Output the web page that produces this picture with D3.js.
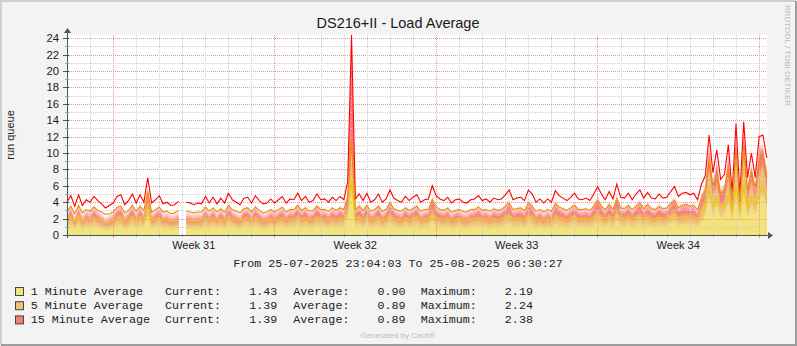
<!DOCTYPE html>
<html>
<head>
<meta charset="utf-8">
<title>DS216+II - Load Average</title>
<style>
  body { margin: 0; background: #fff; }
  svg { display: block; }
  text { font-family: "Liberation Sans", Arial, sans-serif; fill: #1a1a1a; }
  .mono { font-family: "Liberation Mono", "Courier New", monospace; white-space: pre; fill: #222; }
</style>
</head>
<body>
<div id="chart"></div>
<script src="https://d3js.org/d3.v7.min.js"></script>
<script>
// one sample every 4 hours from the left edge of the graph, null = no data
var sampleStart = Date.UTC(2025, 6, 26, 0, 9),
    sampleHours = 4;

var load15 = [
  4.0, 4.8, 3.5, 4.9, 3.6, 4.3, 4.0, 4.7, 4.2, 3.8,
  3.3, 3.6, 3.9, 4.7, 4.9, 3.7, 4.2, 5.0, 3.9, 4.9,
  4.0, 7.0, 3.9, 4.3, 4.8, 3.8, 4.0, 3.6, 3.7, 4.1,
  null, 4.0, 3.9, 3.7, 3.9, 3.8, 4.7, 3.9, 4.6, 3.8,
  4.5, 3.9, 5.1, 4.3, 4.0, 3.7, 4.5, 4.6, 3.9, 4.8,
  4.2, 3.8, 3.9, 4.4, 3.9, 4.3, 4.7, 3.9, 4.4, 4.3,
  5.1, 4.2, 4.7, 4.0, 4.2, 5.0, 4.3, 4.4, 4.0, 4.6,
  4.2, 4.7, 4.3, 6.5, 24.4, 4.4, 5.0, 4.2, 5.1, 4.0,
  4.3, 5.0, 4.0, 4.4, 5.5, 4.5, 4.2, 4.0, 4.7, 4.2,
  4.6, 4.9, 4.0, 4.3, 4.4, 6.0, 4.8, 4.4, 4.2, 4.6,
  3.9, 4.3, 4.4, 4.0, 3.9, 4.3, 4.4, 4.8, 4.2, 4.4,
  4.0, 4.5, 4.3, 4.4, 4.9, 5.5, 4.3, 4.5, 4.6, 4.2,
  5.5, 5.0, 4.0, 4.4, 3.9, 4.4, 4.0, 5.4, 4.8, 4.5,
  4.2, 4.6, 5.1, 4.4, 4.3, 4.5, 4.2, 5.0, 5.9, 5.0,
  4.3, 5.3, 4.4, 6.2, 4.6, 4.5, 5.1, 4.3, 5.0, 5.5,
  4.5, 5.2, 4.5, 4.4, 5.0, 4.5, 4.6, 5.3, 5.9, 4.7,
  5.1, 5.2, 4.9, 5.1, 4.3, 6.2, 7.2, 12.2, 7.6, 10.4,
  6.8, 7.4, 11.0, 5.2, 13.6, 4.9, 13.8, 7.0, 10.0, 7.0,
  12.0, 12.2, 9.4
];

var load5 = [
  2.9, 3.5, 2.6, 3.6, 2.7, 3.1, 2.9, 3.4, 3.0, 2.8,
  2.5, 2.6, 2.8, 3.4, 3.5, 2.7, 3.0, 3.6, 2.9, 3.5,
  3.0, 5.3, 2.8, 3.1, 3.4, 2.8, 2.9, 2.6, 2.7, 3.0,
  null, 2.9, 2.8, 2.7, 2.8, 2.8, 3.4, 2.9, 3.3, 2.8,
  3.2, 2.8, 3.6, 3.1, 2.9, 2.7, 3.2, 3.3, 2.8, 3.4,
  3.0, 2.7, 2.8, 3.1, 2.8, 3.1, 3.4, 2.8, 3.1, 3.1,
  3.6, 3.0, 3.3, 2.9, 3.0, 3.5, 3.1, 3.1, 2.9, 3.3,
  3.0, 3.3, 3.1, 4.6, 11.6, 3.1, 3.5, 3.0, 3.6, 2.9,
  3.1, 3.5, 2.9, 3.1, 3.9, 3.2, 3.0, 2.9, 3.3, 3.0,
  3.2, 3.5, 2.9, 3.1, 3.1, 4.3, 3.4, 3.1, 3.0, 3.3,
  2.8, 3.0, 3.1, 2.9, 2.8, 3.1, 3.1, 3.4, 3.0, 3.1,
  2.9, 3.2, 3.0, 3.1, 3.5, 3.9, 3.1, 3.2, 3.3, 3.0,
  3.9, 3.5, 2.9, 3.1, 2.8, 3.1, 2.9, 3.8, 3.4, 3.2,
  3.0, 3.3, 3.6, 3.1, 3.1, 3.2, 3.0, 3.5, 4.2, 3.5,
  3.1, 3.7, 3.1, 4.4, 3.3, 3.2, 3.6, 3.1, 3.5, 3.9,
  3.2, 3.7, 3.2, 3.1, 3.5, 3.2, 3.3, 3.8, 4.2, 3.3,
  3.6, 3.7, 3.5, 3.6, 3.1, 4.5, 5.5, 9.3, 6.0, 7.5,
  5.0, 5.5, 8.2, 4.2, 10.3, 4.0, 10.8, 5.5, 7.8, 5.8,
  8.8, 9.8, 7.0
];

var load1 = [
  1.9, 2.2, 1.7, 2.3, 1.7, 2.0, 1.9, 2.1, 1.9, 1.8,
  1.6, 1.7, 1.8, 2.1, 2.2, 1.7, 1.9, 2.3, 1.8, 2.2,
  1.9, 3.4, 1.8, 2.0, 2.1, 1.8, 1.9, 1.7, 1.7, 1.9,
  null, 1.9, 1.8, 1.7, 1.8, 1.8, 2.1, 1.8, 2.1, 1.8,
  2.0, 1.8, 2.3, 2.0, 1.9, 1.7, 2.0, 2.1, 1.8, 2.2,
  1.9, 1.7, 1.8, 2.0, 1.8, 2.0, 2.1, 1.8, 2.0, 2.0,
  2.3, 1.9, 2.1, 1.9, 1.9, 2.2, 2.0, 2.0, 1.8, 2.1,
  1.9, 2.1, 2.0, 3.0, 6.5, 2.0, 2.2, 1.9, 2.3, 1.8,
  2.0, 2.2, 1.8, 2.0, 2.4, 2.0, 1.9, 1.8, 2.1, 1.9,
  2.0, 2.2, 1.8, 2.0, 2.0, 2.6, 2.1, 2.0, 1.9, 2.1,
  1.8, 1.9, 2.0, 1.8, 1.8, 2.0, 2.0, 2.1, 1.9, 2.0,
  1.8, 2.0, 1.9, 2.0, 2.2, 2.4, 2.0, 2.0, 2.1, 1.9,
  2.4, 2.2, 1.8, 2.0, 1.8, 2.0, 1.8, 2.3, 2.1, 2.0,
  1.9, 2.1, 2.3, 2.0, 2.0, 2.0, 1.9, 2.2, 2.6, 2.2,
  2.0, 2.3, 2.0, 2.7, 2.1, 2.0, 2.3, 2.0, 2.2, 2.4,
  2.0, 2.3, 2.0, 2.0, 2.2, 2.0, 2.1, 2.4, 2.6, 2.1,
  2.2, 2.3, 2.2, 2.2, 2.0, 2.5, 3.5, 5.6, 3.5, 4.6,
  3.2, 3.5, 5.0, 2.8, 5.8, 2.7, 6.0, 3.3, 4.6, 3.6,
  5.2, 5.9, 4.4
];

var seriesNames = ["1 Minute Average", "5 Minute Average", "15 Minute Average"];
var current = [1.43, 1.39, 1.39];
var average = [0.90, 0.89, 0.89];
var maximum = [2.19, 2.24, 2.38];

var yTicks = [0, 2, 4, 6, 8, 10, 12, 14, 16, 18, 20, 22, 24];
var weekLabels = ["Week 31", "Week 32", "Week 33", "Week 34"];
var weekStarts = [Date.UTC(2025, 6, 28), Date.UTC(2025, 7, 4), Date.UTC(2025, 7, 11), Date.UTC(2025, 7, 18)];

var width = 797, height = 346,
    margin = {top: 35, left: 67, right: 30, bottom: 111},
    plotW = width - margin.left - margin.right,
    plotH = height - margin.top - margin.bottom;

var svg = d3.select("#chart").append("svg")
  .attr("width", width)
  .attr("height", height);

// canvas and frame
svg.append("rect").attr("width", width).attr("height", height).attr("fill", "#f3f3f3");
svg.append("path").attr("d", "M1,345V1H796").attr("fill", "none").attr("stroke", "#cfcfcf").attr("stroke-width", 2);
svg.append("path").attr("d", "M1,345H796V1").attr("fill", "none").attr("stroke", "#9c9c9c").attr("stroke-width", 2);

var x = d3.scaleUtc()
  .domain([new Date(sampleStart), new Date(Date.UTC(2025, 7, 25, 8, 23))])
  .range([margin.left, margin.left + plotW]);
var y = d3.scaleLinear()
  .domain([0, 24.4])
  .range([margin.top + plotH, margin.top]);

var times = load15.map(function(d, i) { return new Date(sampleStart + i * sampleHours * 3600e3); });

svg.append("rect")
  .attr("x", margin.left).attr("y", margin.top)
  .attr("width", plotW).attr("height", plotH)
  .attr("fill", "#fff");

svg.append("clipPath").attr("id", "clip")
  .append("rect")
  .attr("x", margin.left).attr("y", margin.top)
  .attr("width", plotW).attr("height", plotH);

var area = d3.area()
  .defined(function(d) { return d != null; })
  .x(function(d, i) { return x(times[i]); })
  .y0(y(0))
  .y1(function(d) { return y(d); });

var line = d3.line()
  .defined(function(d) { return d != null; })
  .x(function(d, i) { return x(times[i]); })
  .y(function(d) { return y(d); });

// rrdtool style gradient area: transparent at the line, full colour some px below it
function gradientArea(values, color, start, step, n) {
  var g = svg.append("g").attr("clip-path", "url(#clip)");
  for (var k = 1; k <= n; k++) {
    g.append("path")
      .datum(values)
      .attr("d", area)
      .attr("fill", color)
      .attr("fill-opacity", 1 / (n - k + 1))
      .attr("transform", "translate(0," + (start + k * step) + ")");
  }
}

var fills = ["#f4e27a", "#efc173", "#f97a7a"];
var strokes = ["#eacc00", "#ea8f00", "#ff0000"];

gradientArea(load15, fills[2], 7, 2, 5);
gradientArea(load5, fills[1], 5, 2, 4);
gradientArea(load1, fills[0], 3, 2, 3);

// grid
var grid = svg.append("g").attr("fill", "none").attr("stroke-dasharray", "1,1");
d3.range(1, 25).forEach(function(v) {
  var yy = Math.round(y(v)) + 0.5;
  grid.append("line")
    .attr("x1", margin.left).attr("x2", margin.left + plotW)
    .attr("y1", yy).attr("y2", yy)
    .attr("stroke", v % 2 ? "#cfcfcf" : "#e39a9a");
});
var days = d3.utcDay.range(x.domain()[0], x.domain()[1]);
days.forEach(function(d) {
  var xx = Math.round(x(d)) + 0.5;
  var major = d.getUTCDay() === 1;
  grid.append("line")
    .attr("x1", xx).attr("x2", xx)
    .attr("y1", margin.top).attr("y2", margin.top + plotH)
    .attr("stroke", major ? "#e39a9a" : "#cfcfcf");
  svg.append("line")
    .attr("x1", xx).attr("x2", xx)
    .attr("y1", margin.top + plotH - 2).attr("y2", margin.top + plotH + (major ? 3 : 2))
    .attr("stroke", major ? "#e39a9a" : "#bdbdbd");
});

// lines
[load15, load5, load1].forEach(function(values, i) {
  svg.append("path")
    .datum(values)
    .attr("d", line)
    .attr("fill", "none")
    .attr("stroke", strokes[2 - i])
    .attr("stroke-width", 1.1);
});

// axes
var axisColor = "#3f5b52";
var y0 = y(0);
svg.append("line").attr("x1", margin.left - 4).attr("x2", margin.left + plotW + 2)
  .attr("y1", y0 + 0.5).attr("y2", y0 + 0.5).attr("stroke", axisColor);
svg.append("line").attr("x1", margin.left + 0.5).attr("x2", margin.left + 0.5)
  .attr("y1", y0 + 3).attr("y2", margin.top - 2).attr("stroke", axisColor);
svg.append("path")
  .attr("d", "M" + (margin.left + plotW + 1) + "," + (y0 - 3) + "l5,3.5l-5,3.5z")
  .attr("fill", axisColor);
svg.append("path")
  .attr("d", "M" + (margin.left - 3) + "," + (margin.top - 2) + "l3.5,-5l3.5,5z")
  .attr("fill", axisColor);

d3.range(1, 25).forEach(function(v) {
  var yy = Math.round(y(v)) + 0.5;
  svg.append("line")
    .attr("x1", margin.left - (v % 2 ? 2 : 4)).attr("x2", margin.left + 2)
    .attr("y1", yy).attr("y2", yy)
    .attr("stroke", v % 2 ? "#9aa8a3" : axisColor);
});

// tick labels
svg.append("g").selectAll("text")
  .data(yTicks).enter().append("text")
  .attr("x", margin.left - 8)
  .attr("y", function(d) { return y(d) + 4; })
  .attr("text-anchor", "end")
  .style("font-size", "11.3px")
  .text(function(d) { return d; });

svg.append("g").selectAll("text")
  .data(weekLabels).enter().append("text")
  .attr("x", function(d, i) { return x(new Date(weekStarts[i] + 3.5 * 864e5)); })
  .attr("y", 248.5)
  .attr("text-anchor", "middle")
  .style("font-size", "11px")
  .text(function(d) { return d; });

// title and side texts
svg.append("text").attr("x", 398).attr("y", 28)
  .attr("text-anchor", "middle").style("font-size", "14.5px")
  .text("DS216+II - Load Average");

svg.append("text")
  .attr("transform", "translate(14," + (margin.top + plotH / 2) + ")rotate(-90)")
  .attr("text-anchor", "middle").style("font-size", "11px")
  .text("run queue");

svg.append("text")
  .attr("transform", "translate(785,5)rotate(90)")
  .style("font-size", "8px").style("fill", "#b8b8b8")
  .text("RRDTOOL / TOBI OETIKER");

svg.append("text").attr("class", "mono")
  .attr("x", 398).attr("y", 266.5)
  .attr("text-anchor", "middle").style("font-size", "11.7px")
  .text("From 25-07-2025 23:04:03 To 25-08-2025 06:30:27");

// legend
var fmt = d3.format(".2f");
seriesNames.forEach(function(name, i) {
  var base = 295 + i * 14.2;
  svg.append("rect")
    .attr("x", 15.5).attr("y", base - 7.5)
    .attr("width", 8).attr("height", 8)
    .attr("fill", fills[i]).attr("stroke", "#3a4a44");
  var cols = [
    [30.7, name],
    [165, "Current:" + fmt(current[i]).padStart(8)],
    [293.3, "Average:" + fmt(average[i]).padStart(8)],
    [420.7, "Maximum:" + fmt(maximum[i]).padStart(8)]
  ];
  cols.forEach(function(c) {
    svg.append("text").attr("class", "mono")
      .attr("x", c[0]).attr("y", base)
      .style("font-size", "11.7px")
      .text(c[1]);
  });
});

svg.append("text").attr("x", 398).attr("y", 338)
  .attr("text-anchor", "middle")
  .style("font-size", "8px").style("fill", "#bdbdbd")
  .text("Generated by Cacti\u00ae");
</script>
</body>
</html>
